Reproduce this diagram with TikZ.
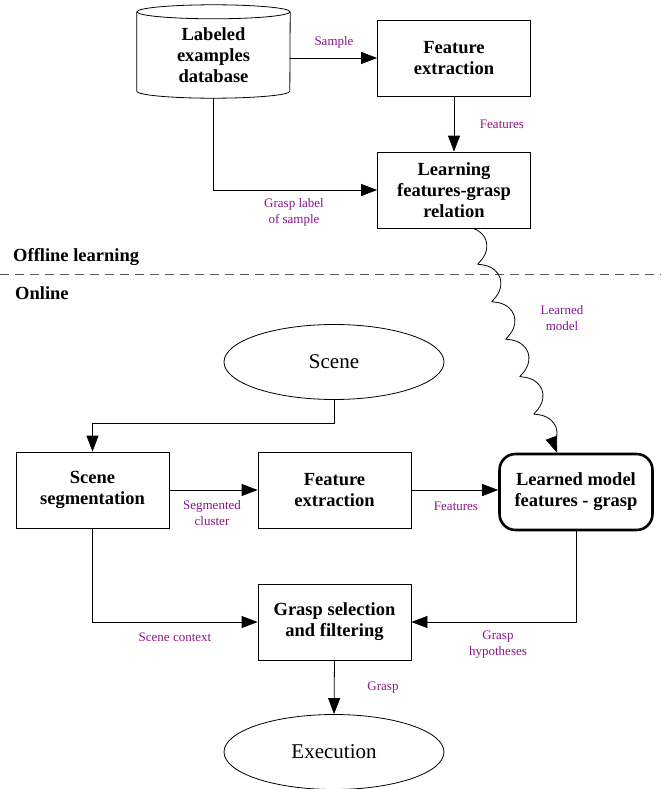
\documentclass[tikz,border=0pt]{standalone}
\usepackage{fontspec}
\setmainfont{Liberation Serif}
\usetikzlibrary{arrows.meta,decorations.pathmorphing,shapes.geometric}
\definecolor{lblcol}{RGB}{140,20,140}
\tikzset{
  box/.style={draw, line width=0.8pt, minimum width=153pt, minimum height=76pt, align=center,
    font=\fontsize{18.5pt}{21pt}\selectfont\bfseries, inner sep=2pt},
  lmbox/.style={box, line width=2.6pt, rounded corners=16pt},
  ell/.style={draw, ellipse, line width=0.8pt, minimum width=220pt, minimum height=75pt,
    font=\fontsize{21pt}{24pt}\selectfont},
  lbl/.style={text=lblcol, align=center, font=\fontsize{13pt}{16pt}\selectfont, inner sep=0pt},
  sect/.style={font=\fontsize{18.5pt}{21pt}\selectfont\bfseries, anchor=west, inner sep=0pt},
  arr/.style={line width=0.8pt, -{Triangle[length=16pt,width=12pt]}},
  plain/.style={line width=0.8pt},
}
\begin{document}
\begin{tikzpicture}[x=1pt,y=-1pt]
\useasboundingbox (0,0) rectangle (661,789);
% offline
\node (db) [align=center, minimum width=153pt, minimum height=86pt, inner sep=0pt,
  font=\fontsize{18.5pt}{21pt}\selectfont\bfseries] at (213.5,55) {Labeled\\examples\\database};
\draw[plain] (db.north west) -- ([yshift=7pt]db.south west)
  arc[start angle=180, end angle=360, x radius=76.5pt, y radius=7pt]
  -- (db.north east);
\draw[plain] (db.north) ellipse[x radius=76.5pt, y radius=7pt];
\node (fe1) [box] at (454,58) {Feature\\extraction};
\node (learn) [box] at (454,190) {Learning\\features-grasp\\relation};
\draw[arr] (fe1.west -| db.east) -- (fe1.west);
\draw[arr] (fe1.south) -- (learn.north);
\draw[arr] (db.south) |- (learn.west);
\node (lsample) [lbl] at (334,42) {Sample};
\node (lfeat1) [lbl] at (502,124) {Features};
\node (lgl) [lbl] at (294,212) {Grasp label\\of sample};
% separator
\coordinate (sepl) at (0,274);
\coordinate (sepr) at (661,274);
\draw[dashed, dash pattern=on 9pt off 6pt, line width=0.9pt, black!65] (sepl) -- (sepr);
\node (off) [sect] at (13,257) {Offline learning};
\node (on) [sect] at (15,293) {Online};
% online
\node (scene) [ell] at (334,362) {Scene};
\node (seg) [box] at (92.5,490) {Scene\\segmentation};
\node (fe2) [box] at (334.5,490) {Feature\\extraction};
\node (lm) [lmbox] at (576,492) {Learned model\\features - grasp};
\node (gs) [box] at (334.5,622) {Grasp selection\\and filtering};
\node (exec) [ell] at (334,752) {Execution};
\draw[arr] (scene.south) -- ++(0,23) -| (seg.north);
\draw[arr] (seg.east |- fe2.west) -- (fe2.west);
\draw[arr] (fe2.east) -- (fe2.east -| lm.west);
\draw[arr] (seg.south) |- (gs.west);
\draw[arr] (lm.south) |- (gs.east);
\draw[arr] (gs.south) -- (exec.north);
\draw[arr, decorate, decoration={coil, amplitude=8pt, segment length=40pt, aspect=0.65, post length=6pt}]
  ([xshift=19pt]learn.south) -- ([xshift=-19pt]lm.north);
\node (llm) [lbl] at (562,318) {Learned\\model};
\node (lseg) [lbl] at (212,513) {Segmented\\cluster};
\node (lfeat2) [lbl] at (456,506) {Features};
\node (lsc) [lbl] at (175,637) {Scene context};
\node (lgh) [lbl] at (498,645) {Grasp\\hypotheses};
\node (lg) [lbl] at (383,688) {Grasp};
\end{tikzpicture}
\end{document}
